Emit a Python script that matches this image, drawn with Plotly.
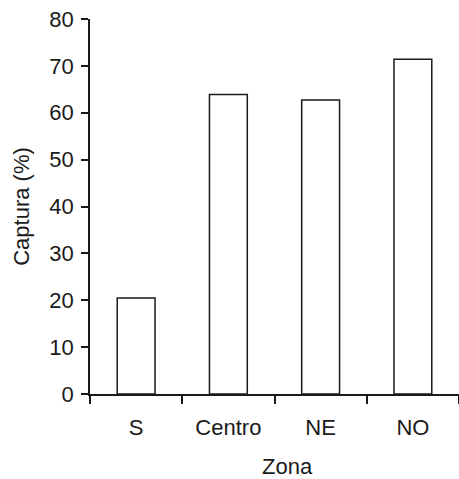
import plotly.graph_objects as go

zonas = ["S", "Centro", "NE", "NO"]
captura = [20.5, 63.9, 62.7, 71.4]
y_ticks = [0, 10, 20, 30, 40, 50, 60, 70, 80]

font = dict(family="Liberation Sans, Arial, sans-serif", size=22, color="#1a1a1a")

fig = go.Figure(go.Bar(
    x=zonas, y=captura, width=0.41,
    marker=dict(color="white", line=dict(color="#1a1a1a", width=1.5)),
))

fig.update_layout(
    width=459, height=479,
    margin=dict(l=90, r=0, t=19, b=85),
    plot_bgcolor="white", paper_bgcolor="white",
    font=font, showlegend=False,
    xaxis=dict(
        type="category", range=[-0.5, 3.5], tickson="boundaries",
        showline=True, linecolor="#1a1a1a", linewidth=1.5,
        ticks="outside", ticklen=8, tickwidth=1.5, tickcolor="#1a1a1a",
        showgrid=False, zeroline=False, ticklabelstandoff=13,
    ),
    yaxis=dict(
        range=[0, 80], tickvals=y_ticks,
        showline=True, linecolor="#1a1a1a", linewidth=1.5,
        ticks="outside", ticklen=7, tickwidth=1.5, tickcolor="#1a1a1a",
        showgrid=False, zeroline=False, ticklabelstandoff=3,
        title=dict(text="Captura (%)", standoff=14, font=font),
    ),
    annotations=[dict(
        text="Zona", xref="paper", yref="paper", x=0.535, y=0,
        yshift=-87, xanchor="center", yanchor="bottom", showarrow=False, font=font,
    )],
)

fig.write_html("out.html")
